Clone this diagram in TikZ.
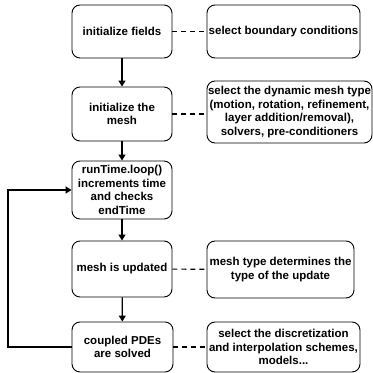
\documentclass[tikz,border=0pt]{standalone}
\usepackage{fontspec}
\setmainfont{Liberation Sans}
\usepackage{tikz}
\usetikzlibrary{arrows.meta}

\begin{document}
\begin{tikzpicture}[x=1pt, y=1pt,
		stage/.style={draw, line width=0.9pt, rounded corners=8pt, align=center, inner sep=0pt, font=\fontsize{11.5}{13.5}\selectfont\bfseries},
		flow/.style={line width=1.3pt, -{Triangle[length=6pt, width=7pt]}},
		link/.style={line width=1.1pt, dash pattern=on 5pt off 4pt}]
				\useasboundingbox (0,0) rectangle (373,373);
				\node[stage, minimum width=100, minimum height=53] (fields) at (122,341.5) {initialize fields};
				\node[stage, minimum width=100, minimum height=54] (mesh) at (122,259) {initialize the\\mesh};
				\node[stage, minimum width=100, minimum height=58] (loop) at (122,183) {runTime.loop()\\increments time\\and checks\\endTime};
				\node[stage, minimum width=100, minimum height=56] (update) at (122,104) {mesh is updated};
				\node[stage, minimum width=101, minimum height=50] (pdes) at (122.5,26) {coupled PDEs\\are solved};
				\node[stage, minimum width=153, minimum height=53] (bc) at (283.5,341.5) {select boundary conditions};
				\node[stage, minimum width=165, minimum height=62] (dyn) at (289.5,261) {select the dynamic mesh type\\(motion, rotation, refinement,\\layer addition/removal),\\solvers, pre-conditioners};
				\node[stage, minimum width=147, minimum height=57] (type) at (280.5,103.5) {mesh type determines the\\type of the update};
				\node[stage, minimum width=153, minimum height=50] (schemes) at (283.5,26) {select the discretization\\and interpolation schemes,\\models...};
				\coordinate (back) at (8,26);
				\draw[flow] (fields) -- (mesh);
				\draw[flow] (mesh) -- (loop);
				\draw[flow] (loop) -- (update);
				\draw[flow] (update) -- (pdes);
				\draw[flow] (pdes.west) -- (back) |- (loop.west);
				\draw[link] (fields) -- (bc);
				\draw[link] (mesh.east) -- (mesh.east -| dyn.west);
				\draw[link] (update) -- (type);
				\draw[link] (pdes) -- (schemes);
				\end{tikzpicture}
\end{document}
